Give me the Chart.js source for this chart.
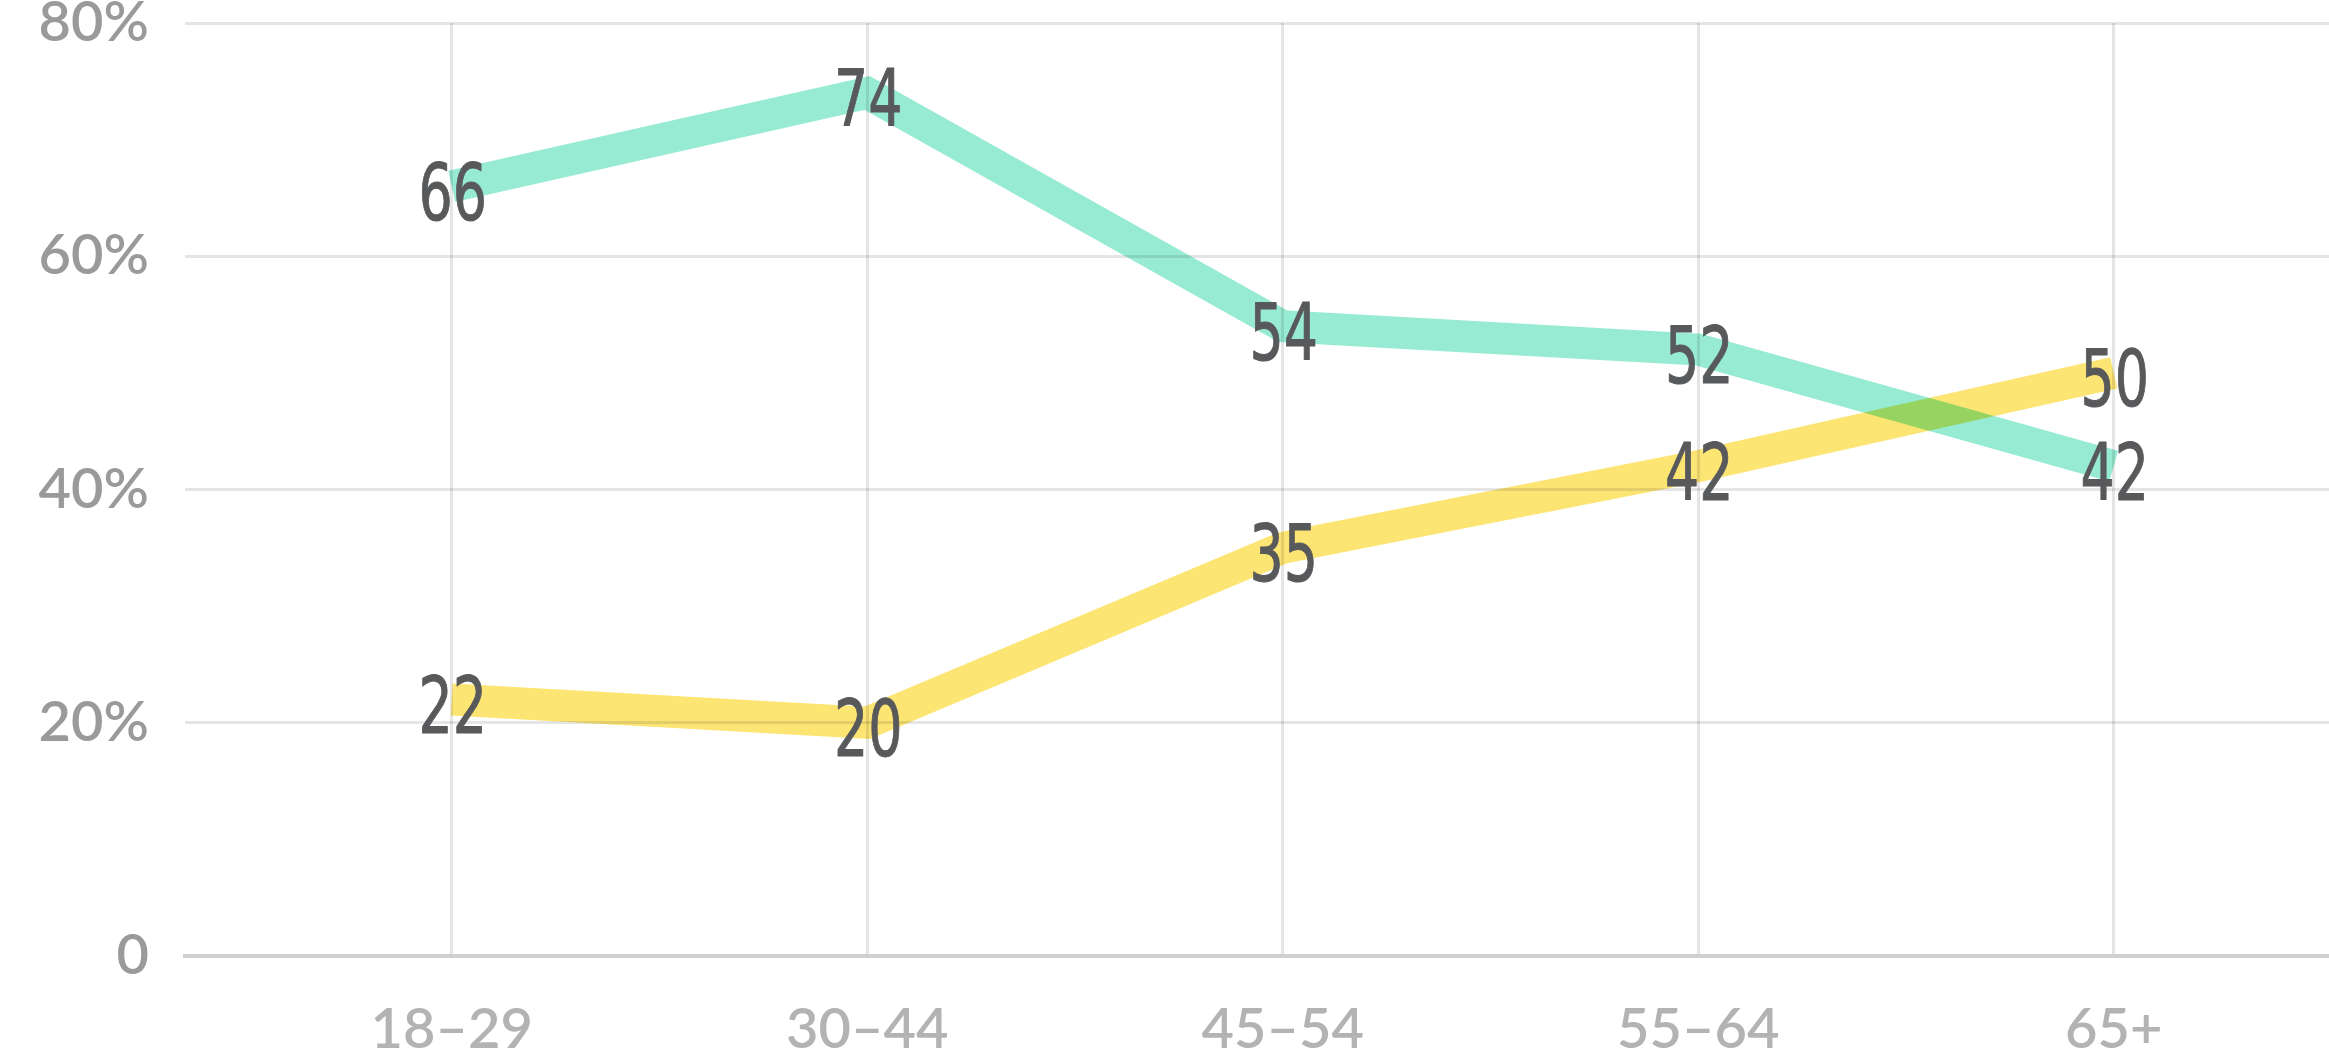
<!DOCTYPE html>
<html>
<head>
<meta charset="utf-8">
<script src="https://cdn.jsdelivr.net/npm/chart.js@4.4.1/dist/chart.umd.min.js"></script>
<style>html,body{margin:0;padding:0;background:#fff;overflow:hidden}</style>
</head>
<body>
<canvas id="c" width="2329" height="1057" style="display:block;width:2329px;height:1057px"></canvas>
<script>
const categories = ['18–29', '30–44', '45–54', '55–64', '65+'];
const seriesGreen = [66, 74, 54, 52, 42];
const seriesYellow = [22, 20, 35, 42, 50];
const yTickValues = [0, 20, 40, 60, 80];
const yTickLabels = ['0', '20%', '40%', '60%', '80%'];

const colorGreen = '#98EBD3';
const colorYellow = '#FDE574';

const toPoints = arr => arr.map((v, i) => ({ x: i, y: v }));

const blendAndLabels = {
  id: 'blendAndLabels',
  beforeDatasetsDraw(chart) {
    chart.ctx.save();
    chart.ctx.globalCompositeOperation = 'multiply';
  },
  afterDatasetsDraw(chart) {
    const ctx = chart.ctx;
    ctx.restore();
    chart.data.datasets.forEach((ds, di) => {
      const meta = chart.getDatasetMeta(di);
      meta.data.forEach((pt, i) => {
        ctx.save();
        ctx.translate(pt.x + 1, pt.y + 33.5);
        ctx.scale(0.69, 1);
        ctx.font = '78px "DejaVu Sans"';
        ctx.fillStyle = '#58595b';
        ctx.strokeStyle = '#58595b';
        ctx.lineWidth = 1.0;
        ctx.lineJoin = 'round';
        ctx.textAlign = 'center';
        ctx.textBaseline = 'alphabetic';
        ctx.fillText(String(ds.data[i].y), 0, 0);
        ctx.strokeText(String(ds.data[i].y), 0, 0);
        ctx.restore();
      });
    });
  }
};

new Chart(document.getElementById('c'), {
  type: 'line',
  data: {
    datasets: [
      {
        data: toPoints(seriesGreen),
        borderColor: colorGreen,
        borderWidth: 32,
        pointRadius: 0,
        tension: 0,
        fill: false,
        borderJoinStyle: 'miter',
        borderCapStyle: 'butt'
      },
      {
        data: toPoints(seriesYellow),
        borderColor: colorYellow,
        borderWidth: 32,
        pointRadius: 0,
        tension: 0,
        fill: false,
        borderJoinStyle: 'miter',
        borderCapStyle: 'butt'
      }
    ]
  },
  options: {
    responsive: false,
    devicePixelRatio: 1,
    animation: false,
    layout: { padding: 0 },
    plugins: { legend: { display: false }, tooltip: { enabled: false } },
    scales: {
      x: {
        type: 'linear',
        min: -0.642,
        max: 4.518,
        afterBuildTicks(s) { s.ticks = categories.map((c, i) => ({ value: i })); },
        ticks: {
          callback: v => categories[v] ?? '',
          font: { family: 'Lato', size: 56, weight: '600' },
          color: '#b3b3b3',
          padding: 40,
          maxRotation: 0,
          autoSkip: false
        },
        grid: { color: 'rgba(0,0,0,0.1)', lineWidth: 3, drawTicks: false },
        border: { display: true, color: '#d0d0d0', width: 4 },
        afterFit(s) { s.height = 101; s.paddingLeft = 0; s.paddingRight = 0; }
      },
      y: {
        min: 0,
        max: 80,
        afterBuildTicks(s) { s.ticks = yTickValues.map(v => ({ value: v })); },
        ticks: {
          callback: v => yTickLabels[yTickValues.indexOf(v)],
          font: { family: 'Lato', size: 56, weight: '600' },
          color: '#9a9a9a',
          padding: 36
        },
        grid: {
          color: c => (c.tick && c.tick.value === 0) ? 'rgba(0,0,0,0)' : 'rgba(0,0,0,0.1)',
          lineWidth: 3,
          drawTicks: false
        },
        border: { display: false },
        afterFit(s) { s.width = 185; s.paddingTop = 23; s.paddingBottom = 0; }
      }
    }
  },
  plugins: [blendAndLabels]
});
</script>
</body>
</html>
